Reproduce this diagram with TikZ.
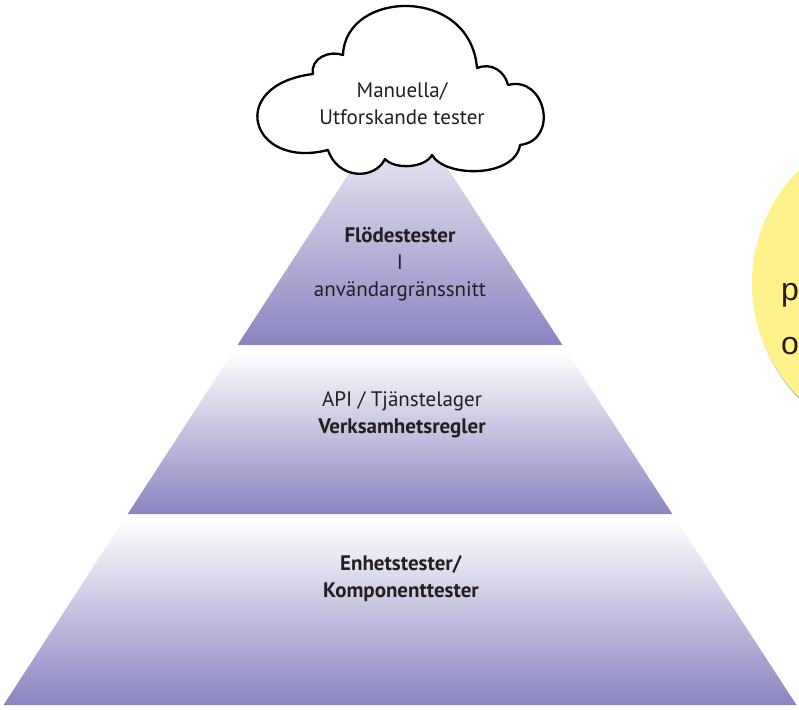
\documentclass[tikz,border=0pt]{standalone}
\usepackage{fontspec}
\setmainfont{PT Sans}
\newfontfamily\circlefont{Liberation Sans}
\definecolor{pyr}{RGB}{138,132,192}
\definecolor{txt}{RGB}{35,31,32}
\definecolor{note}{RGB}{255,242,138}
\begin{document}
\begin{tikzpicture}[x=1pt,y=-1pt,
  layer/.style={top color=white,bottom color=pyr},
  lbl/.style={align=center,text=txt,font=\fontsize{21}{27}\selectfont,inner sep=0pt},
  cloudline/.style={draw=black,line width=2.3pt,fill=white,line join=round}]
\useasboundingbox (0,0) rectangle (799,709);
% note circle (partly outside)
\begin{scope}
\clip (0,0) rectangle (799,709);
\fill[black!25] (914,287) circle (160.5);
\fill[note] (912.5,283.5) circle (160.5);
\node[anchor=base west,inner sep=0pt,text=txt,font=\circlefont\fontsize{32}{40}\selectfont] (np) at (781,300) {p};
\node[anchor=base west,inner sep=0pt,text=txt,font=\circlefont\fontsize{32}{40}\selectfont] (no) at (781,354) {o};
\end{scope}
% pyramid layers
\shade[layer] (400,95) -- (562.5,345) -- (237.5,345) -- cycle;
\shade[layer] (234.25,350) -- (565.75,350) -- (672.35,514) -- (127.65,514) -- cycle;
\shade[layer] (124.4,519) -- (675.6,519) -- (796.5,705) -- (3.5,705) -- cycle;
% cloud
\draw[cloudline] (313,74) .. controls (310,58) and (330,50) .. (343,55)
  .. controls (345,-10) and (470,-15) .. (477,68)
  .. controls (492,62) and (505,72) .. (508,85)
  .. controls (545,75) and (560,140) .. (520,145)
  .. controls (515,178) and (445,178) .. (432,155)
  .. controls (425,168) and (395,170) .. (385,159)
  .. controls (375,180) and (338,180) .. (328,150)
  .. controls (250,170) and (225,85) .. (313,74) -- cycle;
% labels
\node[lbl,anchor=base] (manual) at (402,124) {Manuella/\\Utforskande tester};
\node[lbl,anchor=base] (ui) at (400,296) {\textbf{Flödestester}\\I\\användargränssnitt};
\node[lbl,anchor=base] (api) at (402,433) {API / Tjänstelager\\\textbf{Verksamhetsregler}};
\node[lbl,anchor=base] (unit) at (401,597) {\textbf{Enhetstester/}\\\textbf{Komponenttester}};
\end{tikzpicture}
\end{document}
